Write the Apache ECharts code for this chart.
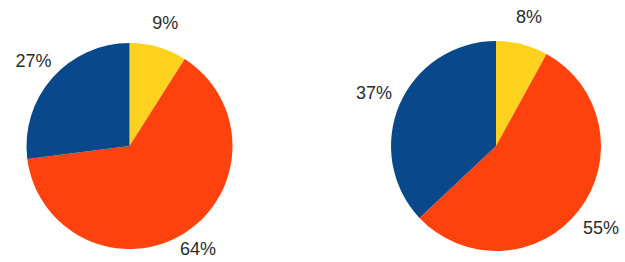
<!DOCTYPE html>
<html>
<head>
<meta charset="utf-8">
<script src="https://cdn.jsdelivr.net/npm/echarts@6/dist/echarts.min.js"></script>
<style>
  html, body { margin: 0; padding: 0; background: #fff; }
  #chart { width: 625px; height: 262px; }
</style>
</head>
<body>
<div id="chart"></div>
<script>
  var sliceNames = ['Yellow', 'Orange', 'Blue'];
  var sliceColors = ['#fcd21f', '#fe420d', '#09488a'];
  var leftValues = [9, 64, 27];
  var rightValues = [8, 55, 37];

  function toData(values) {
    return values.map(function (v, i) {
      return { name: sliceNames[i], value: v, itemStyle: { color: sliceColors[i] } };
    });
  }

  // visible pie, no labels
  function pie(center, radius, values) {
    return {
      type: 'pie',
      center: center,
      radius: [0, radius],
      startAngle: 90,
      silent: true,
      label: { show: false },
      labelLine: { show: false },
      itemStyle: { borderWidth: 0 },
      data: toData(values)
    };
  }

  // invisible ring that only carries the labels at its middle radius
  function labelRing(center, r0, r1, values) {
    return {
      type: 'pie',
      center: center,
      radius: [r0, r1],
      startAngle: 90,
      silent: true,
      label: {
        show: true,
        position: 'inside',
        formatter: '{c}%',
        color: '#2b2b2b',
        fontFamily: 'Liberation Sans, Arial, sans-serif',
        fontSize: 18,
        lineHeight: 16
      },
      // keep labels inside the canvas bottom
      labelLayout: function (p) {
        var cy = p.labelRect.y + p.labelRect.height / 2;
        return cy > 249 ? { y: 249 } : {};
      },
      labelLine: { show: false },
      data: toData(values).map(function (d) {
        d.itemStyle = { color: 'rgba(0,0,0,0)', borderWidth: 0 };
        return d;
      })
    };
  }

  var chart = echarts.init(document.getElementById('chart'), null, { renderer: 'svg' });
  chart.setOption({
    animation: false,
    series: [
      pie([129.5, 146], 103, leftValues),
      labelRing([129.5, 146], 105, 145, leftValues),
      pie([496, 146], 105, rightValues),
      labelRing([496, 146], 110, 150, rightValues)
    ]
  });
</script>
</body>
</html>
